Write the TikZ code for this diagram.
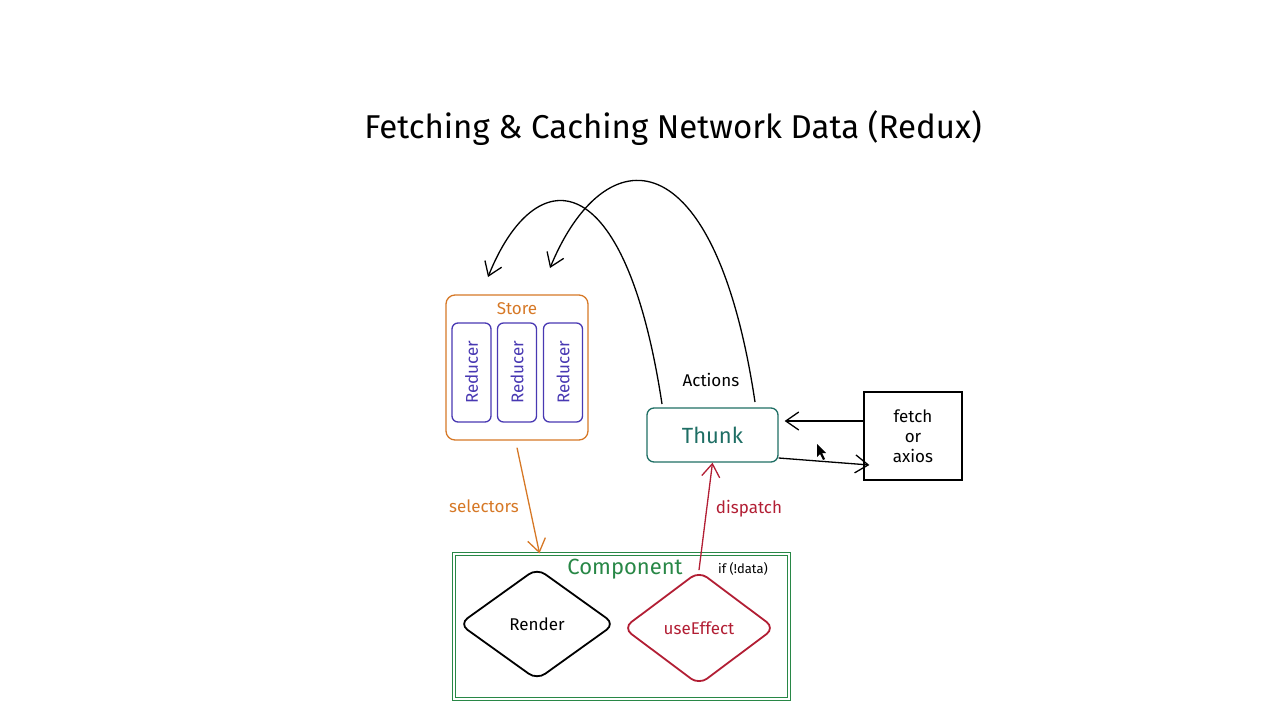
\documentclass[tikz,border=0pt]{standalone}
\usepackage{fontspec}
\setmainfont{Fira Sans}
\usetikzlibrary{shapes.geometric,arrows.meta}
\definecolor{storeorange}{RGB}{214,120,38}
\definecolor{reducerpurple}{RGB}{72,56,178}
\definecolor{thunkteal}{RGB}{30,110,100}
\definecolor{compgreen}{RGB}{40,135,70}
\definecolor{effectred}{RGB}{178,30,52}
\begin{document}
\begin{tikzpicture}[x=1pt,y=-1pt,
    every node/.style={font=\fontsize{17}{20}\selectfont},
    sketch/.style={line width=1.3pt},
    barb/.style={sketch,-{Straight Barb[length=13pt,width=18pt]}},
    box/.style={sketch,draw,rounded corners=9pt},
    reducer/.style={box,draw=reducerpurple,text=reducerpurple,rotate=90,
      minimum width=99pt,minimum height=39pt,rounded corners=6pt},
    decision/.style={sketch,line width=1.8pt,draw,diamond,rounded corners=10pt,inner sep=0pt}]
  \useasboundingbox (0,0) rectangle (1280,720);
  \node[font=\fontsize{33}{38}\selectfont] (title) at (673,128)
    {Fetching \& Caching Network Data (Redux)};
  % store with its reducers
  \node[box,draw=storeorange,minimum width=142pt,minimum height=145pt]
    (store) at (517,367.5) {};
  \node[text=storeorange] (storelabel) at (517,309) {Store};
  \foreach \x/\n in {471.5/1,517/2,563/3}
    \node[reducer] (reducer\n) at (\x,372.5) {Reducer};
  % thunk and fetch
  \node[box,draw=thunkteal,text=thunkteal,minimum width=131pt,minimum height=54pt,
    rounded corners=7pt,font=\fontsize{22}{26}\selectfont] (thunk) at (712.5,435) {Thunk};
  \node[sketch,draw,minimum width=98pt,minimum height=88pt,align=center]
    (fetch) at (913,436) {fetch\\or\\axios};
  \node (actions) at (711,380) {Actions};
  % component
  \node[sketch,draw=compgreen,double,double distance=1.6pt,minimum width=335pt,
    minimum height=145pt] (comp) at (621.5,626.5) {};
  \node[text=compgreen,font=\fontsize{22}{26}\selectfont] (complabel) at (625,569) {Component};
  \node[font=\fontsize{13}{15}\selectfont] (ifdata) at (743,569) {if (!data)};
  \node[decision,minimum width=156pt,minimum height=112pt] (render) at (537,624) {Render};
  \node[decision,draw=effectred,text=effectred,minimum width=152pt,minimum height=114pt]
    (effect) at (699,628) {useEffect};
  % connectors
  \coordinate (actA) at (662,404);
  \coordinate (actB) at (755,402);
  \coordinate (tipA) at (488,277);
  \coordinate (tipB) at (550,268);
  \begin{scope}[barb]
    \draw (actA) .. controls (625,160) and (535,160) .. (tipA);
    \draw (actB) .. controls (715,135) and (605,135) .. (tipB);
    \draw[storeorange] ([yshift=-7pt]store.south) -- ([xshift=-82pt]comp.north);
    \draw[effectred] (effect.north) -- (thunk.south);
    \draw[shorten >=6pt] ([yshift=15pt]fetch.west) -- ([yshift=14pt]thunk.east);
    \draw ([yshift=-23pt]thunk.east) -- ([yshift=-29pt,xshift=6pt]fetch.west);
  \end{scope}
  \node[text=storeorange] (selectors) at (484,506) {selectors};
  \node[text=effectred] (dispatch) at (749,509) {dispatch};
  \fill (817,444) -- (817,457) -- (820,454) -- (823,460) -- (825,459) -- (822,453) -- (826,453) -- cycle;
\end{tikzpicture}
\end{document}
